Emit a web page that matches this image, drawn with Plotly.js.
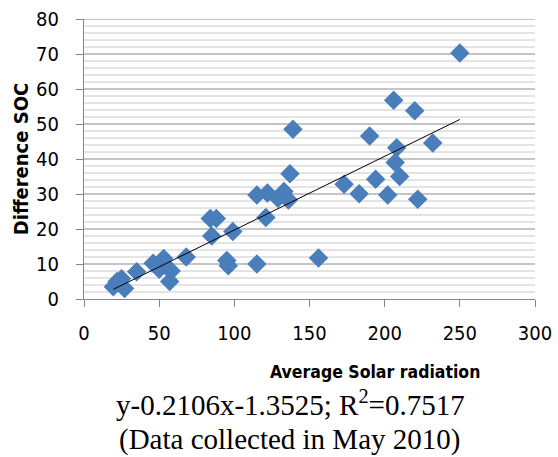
<!DOCTYPE html>
<html>
<head>
<meta charset="utf-8">
<script src="https://cdn.plot.ly/plotly-3.0.1.min.js"></script>
<style>html,body{margin:0;padding:0;background:#fff;}#chart{width:558px;height:457px;}</style>
</head>
<body>
<div id="chart"></div>
<script>
const solarRadiation = [19.5, 22, 25, 27, 35, 46, 50, 53, 56, 57, 58, 68, 84, 85, 88, 95, 96, 99, 115, 115, 121, 122, 129, 133, 136, 137, 139, 156, 173, 183, 190, 194, 202, 206, 207, 208, 210, 220, 222, 232, 250];
const differenceSOC = [3.5, 5, 5.8, 3, 7.8, 10.2, 8.5, 11.6, 8.8, 5, 8, 12, 23, 18, 23, 11, 9.5, 19.3, 10, 29.7, 23.3, 30.3, 28.8, 30.7, 28.3, 35.8, 48.5, 11.7, 32.8, 30.1, 46.6, 34.2, 29.7, 56.8, 39, 43.2, 35, 53.8, 28.5, 44.6, 70.3];
const trendSlope = 0.2106;
const trendIntercept = -1.3525;
const xRange = [0, 300];
const yRange = [0, 80];
const xTickStep = 50;
const yTickStep = 10;
const yMinorStep = 2;

const xMin = Math.min(...solarRadiation), xMax = Math.max(...solarRadiation);
const trendX = [xMin, xMax];
const trendY = trendX.map(v => trendSlope * v + trendIntercept);

// horizontal grid lines (minor every 2, major every 10) built from the axis steps
const minorX = [], minorY = [], majorX = [], majorY = [];
for (let v = yRange[0] + yMinorStep; v <= yRange[1] + 1e-9; v += yMinorStep) {
  const major = Math.abs(v / yTickStep - Math.round(v / yTickStep)) < 1e-9;
  const gx = major ? majorX : minorX, gy = major ? majorY : minorY;
  gx.push(xRange[0], xRange[1], null);
  gy.push(v, v, null);
}

const tickFont = {family: '"DejaVu Sans Condensed", sans-serif', size: 20, color: '#000'};
const xTitleFont = {family: '"DejaVu Sans Condensed", sans-serif', size: 17.5, color: '#000', weight: 'bold'};
const yTitleFont = {family: '"DejaVu Sans Condensed", sans-serif', size: 20, color: '#000', weight: 'bold'};
const serif = {family: '"Liberation Serif", "Times New Roman", serif', size: 29, color: '#000'};

const data = [
  {x: minorX, y: minorY, type: 'scatter', mode: 'lines', line: {color: '#c8c8c8', width: 1}, hoverinfo: 'skip', cliponaxis: false},
  {x: majorX, y: majorY, type: 'scatter', mode: 'lines', line: {color: '#8a8a8a', width: 1}, hoverinfo: 'skip', cliponaxis: false},
  {x: solarRadiation, y: differenceSOC, type: 'scatter', mode: 'markers',
   marker: {symbol: 'diamond', size: 15, color: '#4A7EBB', line: {width: 0}}, hoverinfo: 'x+y'},
  {x: trendX, y: trendY, type: 'scatter', mode: 'lines', line: {color: '#000', width: 1}, hoverinfo: 'skip'}
];

const layout = {
  width: 558, height: 457,
  margin: {l: 84, r: 23, t: 19, b: 158},
  paper_bgcolor: '#fff', plot_bgcolor: '#fff',
  showlegend: false,
  xaxis: {range: xRange, tickmode: 'linear', tick0: 0, dtick: xTickStep, showgrid: false, zeroline: false,
    showline: true, linecolor: '#868686', linewidth: 1,
    ticks: 'outside', ticklen: 7, tickcolor: '#868686', tickfont: tickFont, ticklabelstandoff: 9},
  yaxis: {range: yRange, tickmode: 'linear', tick0: 0, dtick: yTickStep,
    showgrid: false, zeroline: false, showline: true, linecolor: '#868686', linewidth: 1,
    ticks: 'outside', ticklen: 7, tickcolor: '#868686', tickfont: tickFont, ticklabelstandoff: 13,
    title: {text: 'Difference SOC', font: yTitleFont, standoff: 2}},
  annotations: [
    {text: 'Average Solar radiation', xref: 'paper', yref: 'paper', x: 0.8825, y: -0.261, xanchor: 'right', yanchor: 'middle', showarrow: false, font: xTitleFont},
    {text: 'y-0.2106x-1.3525; R<sup>2</sup>=0.7517', xref: 'paper', yref: 'paper', x: 0.457, y: -0.37, xanchor: 'center', yanchor: 'middle', showarrow: false, font: serif},
    {text: '(Data collected in May 2010)', xref: 'paper', yref: 'paper', x: 0.455, y: -0.502, xanchor: 'center', yanchor: 'middle', showarrow: false, font: serif}
  ]
};

Plotly.newPlot('chart', data, layout, {displayModeBar: false});
</script>
</body>
</html>
